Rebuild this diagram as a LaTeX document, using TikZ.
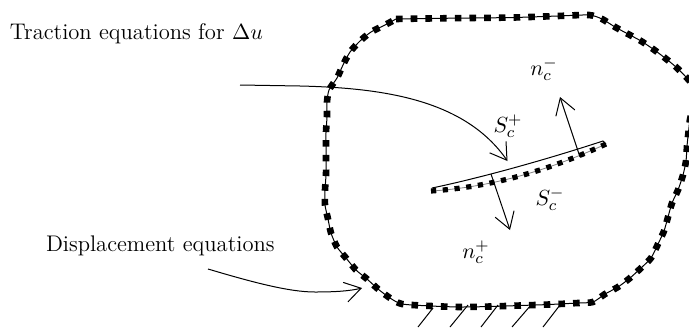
\documentclass[tikz,border=0pt]{standalone}
\usetikzlibrary{arrows.meta}
\tikzset{
  lbl/.style={anchor=base west,inner sep=0pt,outer sep=0pt,font=\fontsize{11.3}{13}\selectfont},
  mlbl/.style={anchor=center,inner sep=0pt,outer sep=0pt,font=\fontsize{11}{13}\selectfont},
  thinline/.style={line width=0.5pt,black},
  conn/.style={line width=0.5pt,black,-{Straight Barb[length=8pt,width=10pt,line width=0.5pt]}},
  squaresbig/.style={line width=3.3pt,black,dash pattern=on 3.3pt off 4.05pt},
  squaressmall/.style={line width=2.6pt,black,dash pattern=on 2.6pt off 3.3pt},
  hatch/.style={line width=0.5pt,black}
}
\begin{document}
\begin{tikzpicture}[x=0.5pt,y=-0.5pt]
\useasboundingbox (0,0) rectangle (689,327);
\clip (0,0) rectangle (689,327);
% boundary
\def\pathA{(396,19) (426,18.5) (470,18) (514,17.5) (558,16) (589,15) (602,19) (615,27) (628,34) (641,41) (653,49) (665,58) (676,67) (686,77) (700,92)}
\def\pathB{(697,103) (690.5,117) (688.5,132) (687,146) (686,161) (683,175) (678,190) (672,203) (668,217) (664,231) (658,244) (651,258) (641,268) (630,278) (618,287) (605,294) (593,302) (578,303) (549,304.5) (520,305.5) (490,306.5) (460,307) (431,306) (402,304) (390,298) (378,289) (367,279) (356,270) (346,258) (337,247) (331,233) (328,219) (325,205) (325,190) (326,175) (326,161) (326,147) (326,132) (327,117) (327,102) (329,90) (337,78) (343,65) (350,52) (360,41) (371,32) (385,25) (396,19)}
\draw[thinline] plot[smooth,tension=.4] coordinates {\pathA};
\draw[thinline] plot[smooth,tension=.4] coordinates {\pathB};
\draw[squaresbig] plot[smooth,tension=.4] coordinates {\pathA};
\draw[squaresbig] plot[smooth,tension=.4] coordinates {\pathB};
% hatches
\foreach \i/\a/\b/\c/\d in {1/433/308/418/327,2/468/305/450/327,3/498/305/481/327,4/531/305/512/327,5/560/305/543/327}
  \draw[hatch] (\a,\b) -- (\c,\d);
% crack
\coordinate (c1) at (432,188);
\coordinate (c2) at (603,141);
\coordinate (c3) at (606,144);
\draw[thinline] (c1) .. controls (480,178) and (545,160) .. (c2) -- (c3);
\draw[line width=0.4pt,gray] (c1) -- (432,191) .. controls (490,187) and (545,172) .. (c3);
\draw[squaressmall] (431,191) .. controls (490,187) and (545,172) .. (c3);
% labels
\node[lbl] (tr) at (10,39) {Traction equations for $\Delta u$};
\node[lbl] (di) at (46,251) {Displacement equations};
\node[mlbl] (sp) at (508,126) {$S_c^+$};
\node[mlbl] (sm) at (550,199) {$S_c^-$};
\node[mlbl] (nm) at (544,69) {$n_c^-$};
\node[mlbl] (np) at (476,252) {$n_c^+$};
% connectors
\coordinate (a0) at (240,85);
\coordinate (a1) at (300,86);
\coordinate (a2) at (507.5,161);
\draw[conn] (a0) -- (a1) .. controls (385,88) and (465,100) .. (a2);
\coordinate (b0) at (580,157);
\coordinate (b1) at (560,97);
\draw[conn] (b0) -- (b1);
\coordinate (d0) at (491,174);
\coordinate (d1) at (510,230);
\draw[conn] (d0) -- (d1);
\coordinate (e0) at (208,269);
\coordinate (e1) at (362,288);
\draw[conn] (e0) .. controls (255,283) and (290,292) .. (315,292) .. controls (335,292) and (350,291) .. (e1);
\end{tikzpicture}
\end{document}
